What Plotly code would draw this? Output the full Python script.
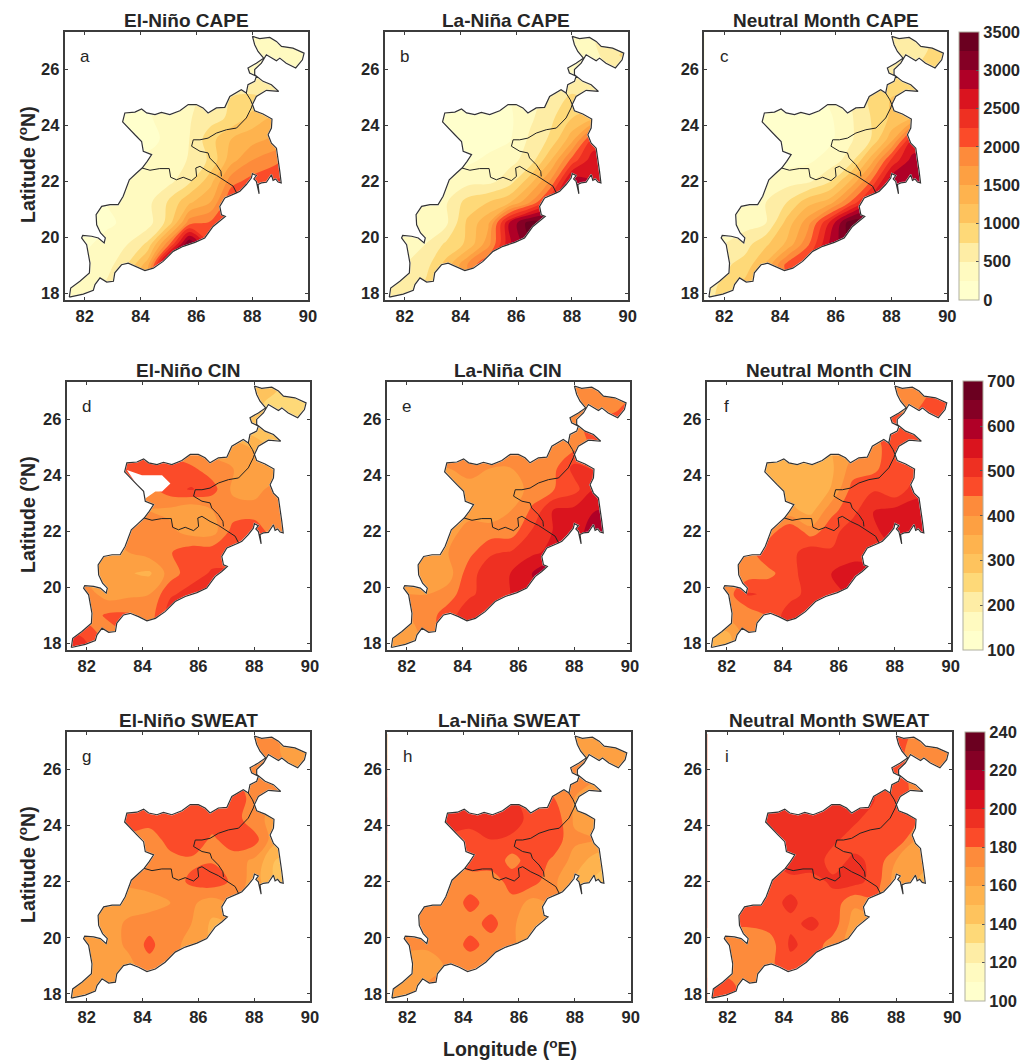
import plotly.graph_objects as go

W, H = 1036, 1061
ML, MR, MT, MB = 0, 70, 10, 20
lon_grid = [81.25, 82, 82.75, 83.5, 84.25, 85, 85.75, 86.5, 87.25, 88, 88.75, 89.5, 89.9]
lat_grid = [17.5, 18.25, 19, 19.75, 20.5, 21.25, 22, 22.75, 23.5, 24.25, 25, 25.75, 26.5, 27.25]
lon_ticks = [82, 84, 86, 88, 90]
lat_ticks = [18, 20, 22, 24, 26]
lon_range = [81.285, 90.0]
lat_range = [17.75, 27.335]

outline_lon = [81.45,81.50,81.83,82.17,82.19,82.13,82.07,81.89,81.93,82.25,82.49,82.70,82.74,82.57,82.43,82.41,82.61,82.91,83.20,83.38,83.50,83.60,83.86,84.06,84.24,84.40,84.10,84.04,83.80,83.56,83.36,83.44,83.80,84.04,84.22,84.52,84.75,85.05,85.41,85.71,86.00,86.24,86.42,86.72,87.02,87.20,87.61,87.79,87.85,88.09,88.15,87.91,87.85,88.15,88.41,88.21,88.09,88.01,88.27,88.63,88.87,89.05,89.46,89.86,89.80,89.56,89.22,88.99,88.87,88.51,88.33,88.09,88.09,88.39,88.69,88.95,88.51,88.15,88.01,88.09,88.39,88.71,88.69,88.57,88.69,88.87,88.93,88.99,89.04,88.93,88.84,88.75,88.69,88.60,88.51,88.33,88.21,88.25,88.17,88.15,88.06,88.15,88.01,87.97,87.79,87.56,87.44,87.02,86.84,86.90,87.04,86.84,86.60,86.30,85.95,85.53,85.17,84.81,84.46,84.16,83.86,83.56,83.32,83.08,83.03,82.79,82.55,82.37,82.31,81.95,81.45]
outline_lat = [17.85,18.18,18.42,18.72,19.07,19.37,19.73,19.97,20.06,20.03,19.97,19.79,19.97,20.15,20.44,20.80,21.10,21.16,21.16,21.46,21.75,22.05,22.29,22.47,22.71,22.95,23.07,23.42,23.66,23.90,24.12,24.44,24.47,24.58,24.44,24.38,24.46,24.38,24.52,24.74,24.74,24.62,24.44,24.62,24.64,25.03,25.27,25.15,25.45,25.57,25.75,25.87,26.05,26.22,26.40,26.64,26.88,27.18,27.10,27.14,27.00,26.82,26.76,26.58,26.34,26.05,26.22,26.40,26.31,26.52,26.22,25.99,25.81,25.57,25.45,25.21,25.25,25.03,24.74,24.52,24.40,24.22,23.90,23.66,23.36,23.18,22.83,22.35,21.94,21.97,22.08,22.03,22.23,22.11,21.96,21.94,21.88,21.55,21.84,21.99,22.08,22.20,22.27,22.11,21.88,21.64,21.58,21.40,21.10,20.80,20.74,20.56,20.38,19.97,19.81,19.67,19.49,19.13,18.89,18.80,18.95,19.07,19.01,18.72,18.42,18.39,18.54,18.30,18.10,17.96,17.85]

border_a_lon = [84.06,84.34,84.69,85.03,85.08,85.29,85.53,85.83,86.01,85.98,86.13,86.42,86.72,86.96,87.32,87.44]
border_a_lat = [22.47,22.39,22.45,22.45,22.14,22.05,22.14,22.02,22.17,22.47,22.53,22.35,22.21,22.05,21.82,21.58]
border_b_lon = [88.01,87.97,87.79,87.44,87.08,86.72,86.42,86.13,85.89,85.83,86.13,86.42,86.48,86.72,86.88,86.90]
border_b_lat = [24.74,24.62,24.26,23.90,23.84,23.72,23.54,23.48,23.48,23.25,23.07,23.01,22.83,22.59,22.35,22.17]
border_c_lon = [87.79,87.94,88.01]
border_c_lat = [25.15,24.91,24.74]

void_d_lon = [83.44,83.98,84.70,85.00,84.70,84.46,84.10,84.04,83.80,83.44]
void_d_lat = [24.18,24.00,24.00,23.70,23.42,23.42,23.17,23.42,23.66,24.18]

cape_el = [
 [300,350,500,900,1400,2000,2500,2500,2500,2500,2500,2500,2500],
 [300,400,550,1100,1700,2600,3000,3000,2700,2600,2500,2500,2500],
 [280,300,350,750,1400,3400,3200,3000,2700,2600,2500,2500,2500],
 [200,220,300,480,800,1900,3300,2300,2500,2600,2500,2500,2500],
 [150,180,220,280,380,850,1900,2050,2300,2500,2500,2500,2500],
 [150,180,250,280,420,780,1200,1500,2250,2500,2500,2500,2500],
 [200,200,250,300,350,420,700,1150,1900,2100,2250,2400,2500],
 [200,200,250,280,300,370,520,800,1400,1750,1900,2100,2200],
 [200,200,200,200,180,300,500,900,1250,1400,1550,1600,1700],
 [200,200,200,200,240,280,480,650,800,1100,1300,1400,1400],
 [250,250,250,250,250,300,450,550,750,800,700,700,700],
 [300,300,300,300,300,300,400,400,500,450,500,500,500],
 [300,300,300,300,300,300,300,300,300,300,300,450,500],
 [300,300,300,300,300,300,300,300,300,300,300,400,400]]
cape_la = [
 [600,650,1000,1300,1800,2000,2300,2800,3000,3000,3000,3000,3000],
 [500,550,800,1100,1600,2000,2400,2800,3000,3000,3000,3000,3000],
 [450,500,650,1100,1750,2300,2800,3000,3100,3000,3000,3000,3000],
 [300,350,500,800,1050,1650,2700,3200,3300,3000,3000,3000,3000],
 [300,300,350,450,1050,1450,2750,3400,3300,3000,3000,3000,3000],
 [300,300,300,480,850,1000,1200,1750,2500,2750,2750,2750,2750],
 [100,150,200,300,400,420,620,1150,1800,2900,2750,2700,2700],
 [100,100,150,150,200,300,420,600,1250,2100,2650,2700,2700],
 [100,100,100,100,120,150,220,550,800,1400,2300,2400,2400],
 [100,100,100,100,100,120,200,450,700,1000,1200,1300,1300],
 [100,100,100,100,100,150,250,400,600,800,700,700,700],
 [200,200,200,200,200,200,300,400,500,500,500,500,500],
 [300,300,300,300,300,300,300,300,300,350,400,700,800],
 [300,300,300,300,300,300,300,300,300,350,500,600,600]]
cape_neu = [
 [700,800,1200,1500,2000,2300,2600,2900,3000,3000,3000,3000,3000],
 [650,800,1100,1400,1900,2200,2600,2900,3000,3000,3000,3000,3000],
 [550,700,850,1300,2100,2400,2900,3200,3200,3000,3000,3000,3000],
 [400,500,650,950,1300,1950,2750,3300,3400,3000,3000,3000,3000],
 [300,300,400,500,1100,1650,2500,3400,3400,3000,3000,3000,3000],
 [300,300,300,500,750,1150,1350,2000,2700,2950,2900,2900,2900],
 [100,150,200,300,400,450,700,1250,2000,2950,2950,2900,2900],
 [50,80,100,120,150,200,350,600,1350,2300,2850,2900,2900],
 [50,50,50,50,50,100,180,450,750,1400,2500,2600,2600],
 [50,50,50,50,50,100,200,450,750,1050,1250,1300,1300],
 [100,100,100,100,100,150,300,500,800,1000,1000,1000,1000],
 [200,200,200,200,200,200,300,500,700,800,800,800,800],
 [400,400,400,400,400,400,400,400,400,500,600,850,900],
 [400,400,400,400,400,400,400,400,400,500,600,700,700]]

cin_el = [
 [500,500,450,450,420,510,500,500,500,500,500,500,500],
 [500,480,420,450,420,510,520,520,500,500,500,500,500],
 [420,420,450,450,420,510,520,510,500,500,500,500,500],
 [400,420,380,390,400,480,500,500,500,500,500,500,500],
 [370,370,360,360,350,420,470,490,490,490,490,490,490],
 [385,385,385,400,420,440,470,470,470,470,470,470,470],
 [400,400,400,400,410,410,380,380,460,470,420,420,420],
 [400,400,400,400,400,390,365,400,420,420,420,420,420],
 [420,420,420,440,430,470,490,460,390,380,420,420,420],
 [480,480,480,480,480,470,450,420,400,380,350,350,350],
 [450,450,450,450,450,420,400,380,380,350,300,300,300],
 [400,400,400,400,400,380,350,320,300,280,270,270,270],
 [300,300,300,300,300,300,300,300,290,280,260,240,240],
 [290,290,290,290,290,290,290,290,290,290,280,260,260]]
cin_la = [
 [370,370,420,470,510,510,510,540,540,540,540,540,540],
 [370,370,420,470,510,510,520,540,540,540,540,540,540],
 [400,400,420,470,510,510,530,540,550,550,550,550,550],
 [400,400,400,420,480,500,530,540,580,560,560,560,560],
 [370,370,370,380,470,510,530,575,600,560,560,560,560],
 [390,390,390,400,430,480,490,520,540,560,580,600,600],
 [380,380,380,380,420,420,420,490,530,545,600,600,600],
 [380,380,380,380,380,370,400,450,530,540,570,570,570],
 [390,390,390,390,390,370,370,420,440,470,530,530,530],
 [400,400,400,400,410,400,400,410,430,500,480,480,480],
 [400,400,400,400,400,400,400,400,400,430,450,450,450],
 [400,400,400,400,400,400,400,400,400,420,470,470,470],
 [400,400,400,400,400,400,400,400,400,400,400,430,450],
 [400,400,400,400,400,400,400,400,400,400,400,400,400]]
cin_neu = [
 [340,340,420,440,500,510,510,510,510,510,510,510,510],
 [340,340,420,440,500,510,510,510,510,510,510,510,510],
 [410,410,415,450,510,510,510,520,520,520,520,520,520],
 [420,420,490,480,470,500,510,540,540,540,540,540,540],
 [420,420,420,430,470,510,530,550,550,550,550,550,550],
 [420,420,420,480,470,510,490,510,510,530,550,550,550],
 [420,420,420,420,480,420,470,510,520,550,550,550,550],
 [370,370,370,370,370,340,430,470,530,540,550,550,550],
 [340,340,340,340,340,330,360,460,480,450,510,510,510],
 [340,340,340,340,340,330,350,420,430,480,470,470,470],
 [340,340,340,340,340,340,360,400,420,480,470,470,470],
 [400,400,400,400,400,400,400,420,440,470,470,470,470],
 [420,420,420,420,420,420,420,420,420,420,430,480,480],
 [420,420,420,420,420,420,420,420,420,420,420,440,440]]

sweat_el = [
 [165,165,165,165,172,172,168,168,168,168,168,168,168],
 [165,165,165,165,172,172,168,168,168,168,168,168,168],
 [165,165,165,167,176,172,168,160,160,160,160,160,160],
 [165,165,165,172,183,172,168,158,158,158,158,158,158],
 [165,165,165,172,176,172,170,158,160,160,160,160,160],
 [165,165,165,165,165,170,172,165,172,165,160,160,160],
 [170,170,170,172,175,175,182,186,178,165,150,145,145],
 [172,172,172,172,175,175,178,179,175,168,150,145,145],
 [175,175,175,178,172,186,188,178,186,185,163,160,160],
 [184,184,184,184,187,187,187,186,186,172,168,168,168],
 [185,185,185,185,185,185,187,187,188,175,170,170,170],
 [180,180,180,180,180,180,180,180,180,172,172,172,172],
 [172,172,172,172,172,172,172,172,172,172,172,165,165],
 [172,172,172,172,172,172,172,172,172,172,172,165,165]]
sweat_la = [
 [168,168,172,172,172,172,172,165,165,165,165,165,165],
 [168,168,172,172,172,172,172,165,165,165,165,165,165],
 [165,165,165,172,172,172,172,165,160,160,160,160,160],
 [172,172,172,172,184,175,172,162,160,160,160,160,160],
 [172,172,172,175,175,184,172,162,160,160,160,160,160],
 [172,172,172,172,184,175,176,166,172,165,160,160,160],
 [178,178,178,178,174,172,186,184,172,160,148,145,145],
 [180,180,180,180,186,188,176,186,178,166,155,150,150],
 [188,188,188,188,188,190,188,186,186,172,170,168,168],
 [195,195,195,195,192,192,195,186,187,168,170,170,170],
 [190,190,190,190,190,190,190,186,180,170,168,168,168],
 [180,180,180,180,180,180,180,180,178,175,170,170,170],
 [170,170,170,170,170,170,170,170,170,170,168,165,165],
 [170,170,170,170,170,170,170,170,170,170,170,165,165]]
sweat_neu = [
 [186,186,172,172,186,186,175,165,165,165,165,165,165],
 [186,186,172,172,186,186,175,165,165,165,165,165,165],
 [172,172,172,178,186,186,175,165,165,165,165,165,165],
 [172,172,170,175,192,186,175,165,165,165,165,165,165],
 [182,182,182,184,188,192,186,165,165,165,165,165,165],
 [184,184,184,187,192,186,186,172,178,170,165,165,165],
 [187,187,187,187,187,186,192,194,186,165,160,160,160],
 [190,190,190,190,196,196,186,192,188,170,162,160,160],
 [196,196,196,196,196,198,192,186,190,188,170,168,168],
 [200,200,200,200,198,197,195,192,186,184,180,178,178],
 [195,195,195,195,195,195,195,192,190,184,178,175,175],
 [190,190,190,190,190,190,190,190,188,186,175,175,175],
 [185,185,185,185,185,185,185,185,185,185,172,172,172],
 [190,190,190,190,190,190,190,190,190,190,175,172,172]]

band_colors = ["#ffffcc","#fff6b8","#fee99c","#fed36c","#febf5a","#feb24c","#fd9f42",
               "#fd8d3c","#fc4e2a","#f03523","#e31a1c","#bd0026","#960028","#6b0020"]
ink = "#262626"
font_family = "Liberation Sans"

titles = ["El-Niño CAPE","La-Niña CAPE","Neutral Month CAPE",
          "El-Niño CIN","La-Niña CIN","Neutral Month CIN",
          "El-Niño SWEAT","La-Niña SWEAT","Neutral Month SWEAT"]
letters = ["a","b","c","d","e","f","g","h","i"]
fields = [cape_el,cape_la,cape_neu,cin_el,cin_la,cin_neu,sweat_el,sweat_la,sweat_neu]
level_start = [0,100,100]
level_end = [3500,700,240]
bar_dtick = [500,100,20]
frames = [(64.7,308,32,300),(384.7,627.7,32,300),(704.3,947.3,32,300),
          (66.7,310,381.7,650.3),(386.7,630,381.7,650.3),(706.7,950.7,381.7,650.3),
          (66.7,310,731.7,1001),(387.3,630.7,731.7,1001),(707.3,952.3,731.7,1001)]
bar_left = [959,963.3,965]

def fx(px):
    return (px-ML)/(W-ML-MR)
def fy(py):
    return 1-(py-MT)/(H-MT-MB)

n = len(band_colors)
colorscale = [[0,band_colors[0]]]+[[(k+1)/(n+1),c] for k,c in enumerate(band_colors)]+[[1,band_colors[-1]]]

fig = go.Figure()
annotations = []
for i in range(9):
    sfx = "" if i == 0 else str(i+1)
    l,r,t,b = frames[i]
    row = i//3
    start,end = level_start[row],level_end[row]
    size = (end-start)/n
    show = i%3 == 2
    fig.add_trace(go.Contour(
        x=lon_grid,y=lat_grid,z=fields[i],xaxis="x"+sfx,yaxis="y"+sfx,
        colorscale=colorscale,zmin=start,zmax=end,hoverinfo="skip",
        autocontour=False,
        contours=dict(start=start,end=end,size=size,coloring="fill",showlines=False),
        line=dict(width=0),showscale=show,
        colorbar=dict(x=fx(bar_left[row]),xanchor="left",xref="paper",
                      y=fy(b),yanchor="bottom",yref="paper",len=(b-t)/(H-MT-MB),lenmode="fraction",
                      thickness=20,thicknessmode="pixels",xpad=0,ypad=0,
                      outlinecolor="#b0b0a0",outlinewidth=1,
                      tick0=start,dtick=bar_dtick[row],ticks="inside",ticklen=3,tickcolor="#555555",
                      tickfont=dict(family=font_family,size=16.5,color=ink,weight=700)) if show else None))
    x0,x1 = lon_range[0]-1,lon_range[1]+1
    y0,y1 = lat_range[0]-1,lat_range[1]+1
    fig.add_trace(go.Scatter(
        x=[x0,x1,x1,x0,x0]+outline_lon+[x0],y=[y0,y0,y1,y1,y0]+outline_lat+[y0],
        xaxis="x"+sfx,yaxis="y"+sfx,mode="lines",fill="toself",fillcolor="white",
        line=dict(width=1.5,color="white"),hoverinfo="skip",showlegend=False))
    if i == 3:
        fig.add_trace(go.Scatter(x=void_d_lon,y=void_d_lat,xaxis="x"+sfx,yaxis="y"+sfx,mode="lines",
            fill="toself",fillcolor="white",line=dict(width=0,color="rgba(0,0,0,0)"),
            hoverinfo="skip",showlegend=False))
    for bx,by,lw,c in [(outline_lon,outline_lat,1.2,"#333333"),(border_a_lon,border_a_lat,1,"#222222"),
                       (border_b_lon,border_b_lat,1,"#222222"),(border_c_lon,border_c_lat,1,"#222222")]:
        fig.add_trace(go.Scatter(x=bx,y=by,xaxis="x"+sfx,yaxis="y"+sfx,mode="lines",
            line=dict(width=lw,color=c),hoverinfo="skip",showlegend=False))
    axis = dict(showgrid=False,zeroline=False,showline=True,linecolor="#3c3c3c",linewidth=2,
                mirror="ticks",ticks="inside",ticklen=3,tickcolor="#3c3c3c",tickwidth=1,
                tickfont=dict(family=font_family,size=16.5,color=ink,weight=700))
    fig.update_layout({
        "xaxis"+sfx: dict(axis,domain=[fx(l),fx(r)],range=lon_range,tickvals=lon_ticks,anchor="y"+sfx),
        "yaxis"+sfx: dict(axis,domain=[fy(b),fy(t)],range=lat_range,tickvals=lat_ticks,anchor="x"+sfx),
    })
    annotations.append(dict(text=titles[i],x=fx((l+r)/2),y=fy(t-11),xref="paper",yref="paper",
        xanchor="center",yanchor="middle",showarrow=False,
        font=dict(family=font_family,size=19,color=ink,weight=700)))
    annotations.append(dict(text=letters[i],x=82.0,y=26.45,xref="x"+sfx,yref="y"+sfx,
        xanchor="center",yanchor="middle",showarrow=False,
        font=dict(family=font_family,size=17,color=ink)))

for cy in [165,515,865]:
    annotations.append(dict(text="Latitude (<sup>o</sup>N)",x=fx(27),y=fy(cy),xref="paper",yref="paper",
        textangle=-90,xanchor="center",yanchor="middle",showarrow=False,
        font=dict(family=font_family,size=19.5,color=ink,weight=700)))
annotations.append(dict(text="Longitude (<sup>o</sup>E)",x=fx(510),y=fy(1048),xref="paper",yref="paper",
    xanchor="center",yanchor="middle",showarrow=False,
    font=dict(family=font_family,size=19.5,color=ink,weight=700)))

fig.update_layout(width=W,height=H,margin=dict(l=ML,r=MR,t=MT,b=MB),paper_bgcolor="white",plot_bgcolor="white",
                  showlegend=False,annotations=annotations)
fig.write_html("out.html",config={"displayModeBar":False},post_script="document.body.style.margin='0';")
